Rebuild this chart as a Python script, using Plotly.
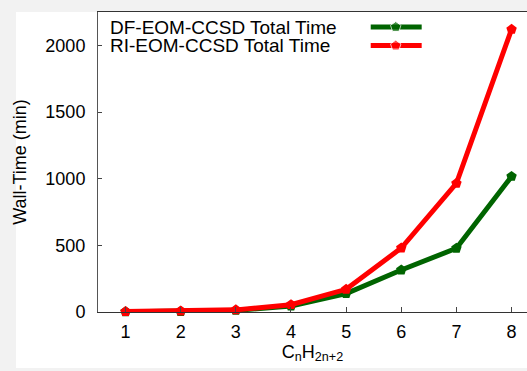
import plotly.graph_objects as go

n_values = [1, 2, 3, 4, 5, 6, 7, 8]
df_eom_ccsd_time = [2, 4, 12, 45, 138, 315, 478, 1017]
ri_eom_ccsd_time = [3, 7, 16, 55, 170, 480, 965, 2120]
series_names = ["DF-EOM-CCSD Total Time", "RI-EOM-CCSD Total Time"]
series_colors = ["#006400", "#ff0000"]
y_tick_values = [0, 500, 1000, 1500, 2000]

FONT = "Liberation Sans, Arial, sans-serif"

fig = go.Figure()
for name, vals, col in zip(series_names, [df_eom_ccsd_time, ri_eom_ccsd_time], series_colors):
    fig.add_trace(go.Scatter(
        x=n_values, y=vals, name=name, mode="lines+markers",
        line=dict(color=col, width=5),
        marker=dict(symbol="pentagon", size=11, color=col),
        showlegend=False, cliponaxis=False,
    ))

# custom legend (text left, sample right, gnuplot style)
leg_y = [0.95, 0.888]
for name, col, ly in zip(series_names, series_colors, leg_y):
    fig.add_annotation(xref="paper", yref="paper", x=0.028, y=ly, text=name,
                       showarrow=False, xanchor="left", yanchor="middle",
                       xshift=-2,
                       font=dict(family=FONT, size=19, color="black"))
    fig.add_trace(go.Scatter(
        x=[0.6357, 0.694, 0.7545], y=[ly, ly, ly], xaxis="x2", yaxis="y2",
        mode="lines+markers", line=dict(color=col, width=5),
        marker=dict(symbol="pentagon", size=[0, 11, 0], color=col),
        showlegend=False, hoverinfo="skip", cliponaxis=False,
    ))

# white page area over gray background
fig.add_shape(type="rect", xref="paper", yref="paper", x0=-0.1911, x1=1.0, y0=-0.1867, y1=1.0,
              fillcolor="white", line=dict(width=0), layer="below")

fig.update_layout(
    width=527, height=371,
    margin=dict(l=98, r=0, t=12, b=59, autoexpand=False),
    paper_bgcolor="#f2f2f2", plot_bgcolor="white",
    font=dict(family=FONT, size=18, color="black"),
    xaxis=dict(range=[0.5, 8.28], tickmode="array", tickvals=n_values,
               ticks="inside", ticklen=5, tickcolor="#444", showline=True,
               linecolor="#333", linewidth=1, mirror=True, showgrid=False, zeroline=False,
               automargin=False, ticklabelstandoff=3,
               title=dict(text="C<sub>n</sub>H<sub>2n+2</sub>", standoff=4,
                          font=dict(size=18))),
    yaxis=dict(range=[0, 2250], tickmode="array", tickvals=y_tick_values,
               ticks="inside", ticklen=4, tickcolor="#444", showline=True,
               linecolor="#555", linewidth=1, showgrid=False, zeroline=False,
               automargin=False, ticklabelstandoff=8,
               title=dict(text="Wall-Time (min)", standoff=14, font=dict(size=18))),
    xaxis2=dict(range=[0, 1], overlaying="x", visible=False, fixedrange=True),
    yaxis2=dict(range=[0, 1], overlaying="y", visible=False, fixedrange=True),
)

fig.write_html("out.html", config={"displayModeBar": False},
               post_script="document.body.style.margin='0';document.body.style.overflow='hidden';")
